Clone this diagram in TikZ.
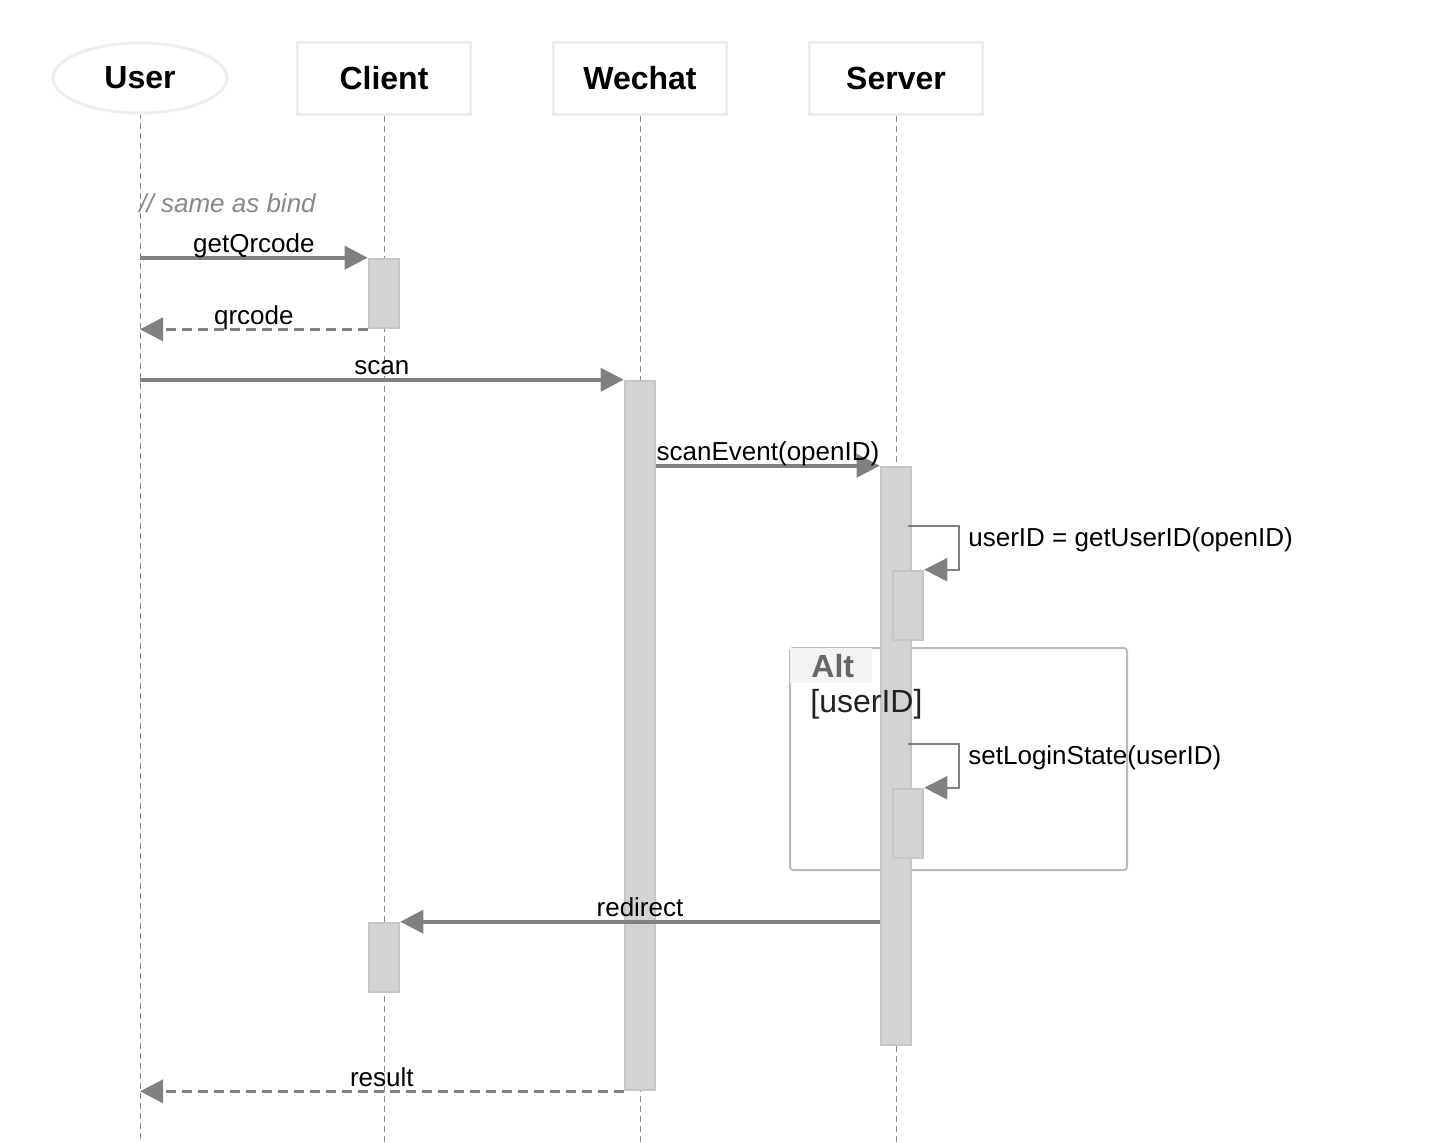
\documentclass[tikz,border=0pt]{standalone}
\usepackage{fontspec}
\setmainfont{Liberation Sans}
\usetikzlibrary{arrows.meta,shapes.geometric,fit}
\definecolor{hdr}{HTML}{EEEEEE}
\definecolor{lifec}{HTML}{888888}
\definecolor{msgc}{HTML}{808080}
\definecolor{barfill}{HTML}{D3D3D3}
\definecolor{barline}{HTML}{C6C6C6}
\definecolor{framec}{HTML}{BBBBBB}
\definecolor{altbg}{HTML}{F3F3F3}
\definecolor{altc}{HTML}{666666}
\definecolor{condc}{HTML}{222222}
\tikzset{
  head/.style={draw=hdr, line width=1.5pt, fill=white, minimum width=86.5pt, minimum height=36pt, inner sep=0pt, font=\fontsize{16}{19}\selectfont\bfseries},
  headell/.style={head, ellipse, minimum width=87pt, minimum height=35pt},
  life/.style={draw=lifec, line width=0.9pt, dash pattern=on 3pt off 2pt},
  actbar/.style={draw=barline, line width=1.3pt, fill=barfill, inner sep=0pt},
  msg/.style={draw=msgc, line width=1.8pt, -{Triangle[length=11.5pt,width=11.5pt]}, msgc},
  retmsg/.style={msg, dash pattern=on 5pt off 3pt},
  loopmsg/.style={draw=msgc, line width=1.1pt, -{Triangle[length=11.5pt,width=11.5pt]}, msgc},
  lbl/.style={inner sep=0pt, anchor=base, text=black, font=\fontsize{13}{15.6}\selectfont},
  mlbl/.style={lbl, pos=0.5, yshift=2.5pt},
  lbll/.style={lbl, anchor=base west},
  frame/.style={draw=framec, line width=1pt, rounded corners=1.5pt, inner sep=0pt},
}
\begin{document}
\begin{tikzpicture}[x=0.5pt,y=-0.5pt]
\useasboundingbox (0,0) rectangle (1430,1142);
\fill[white] (0,0) rectangle (1430,1142);
\coordinate (bot) at (0,1142);
% lifelines
\draw[life] (140.5,113) coordinate (uL) -- (uL |- bot);
\draw[life] (384.5,116) coordinate (cL) -- (cL |- bot);
\draw[life] (640.5,116) coordinate (wL) -- (wL |- bot);
\draw[life] (896.5,116) coordinate (sL) -- (sL |- bot);
% heads
\node[headell] (user) at (140,78) {User};
\node[head] (client) at (384,78) {Client};
\node[head] (wechat) at (640,78) {Wechat};
\node[head] (server) at (896,78) {Server};
% comment
\node[lbll, text=lifec, font=\fontsize{13}{15.6}\selectfont\itshape] (cmt) at (139,212) {// same as bind};
% alt frame
\node[frame, fit={(790,648)(1127,870)}] (alt) {};
\fill[altbg] (alt.north west) ++(1,1) rectangle (872,683);
% activation bars
\node[actbar, fit={(369,259)(399,328)}] (cb1) {};
\node[actbar, fit={(625,381)(655,1090)}] (wb) {};
\node[actbar, fit={(881,467)(911,1045)}] (sb) {};
\node[actbar, fit={(893,571)(923,640)}] (ss1) {};
\node[actbar, fit={(893,789)(923,858)}] (ss2) {};
\node[actbar, fit={(369,923)(399,992)}] (cb2) {};
% alt texts
\node[lbll, text=altc, font=\fontsize{16}{19}\selectfont\bfseries] (altt) at (811,677) {Alt};
\node[lbll, text=condc, font=\fontsize{16}{19}\selectfont] (cond) at (810,712) {[userID]};
% messages
\draw[msg] (user.south |- cb1.north) -- node[mlbl] (m1) {getQrcode} (cb1.north west);
\draw[retmsg] (cb1.south west) -- node[mlbl] (m2) {qrcode} (user.south |- cb1.south);
\draw[msg] (user.south |- wb.north) -- node[mlbl] (m3) {scan} (wb.north west);
\draw[msg] (wb.east |- sb.north) -- node[mlbl] (m4) {scanEvent(openID)} (sb.north west);
\coordinate (lp1) at (959,526);
\draw[loopmsg] (908,526) -- (lp1) |- (ss1.north east);
\node[lbll] (m5) at (968,546) {userID = getUserID(openID)};
\coordinate (lp2) at (959,744);
\draw[loopmsg] (908,744) -- (lp2) |- (ss2.north east);
\node[lbll] (m6) at (968,764) {setLoginState(userID)};
\draw[msg] (sb.west |- cb2.north) -- node[mlbl] (m7) {redirect} (cb2.north east);
\draw[retmsg] (wb.south west) -- node[mlbl] (m8) {result} (user.south |- wb.south);
\end{tikzpicture}
\end{document}
